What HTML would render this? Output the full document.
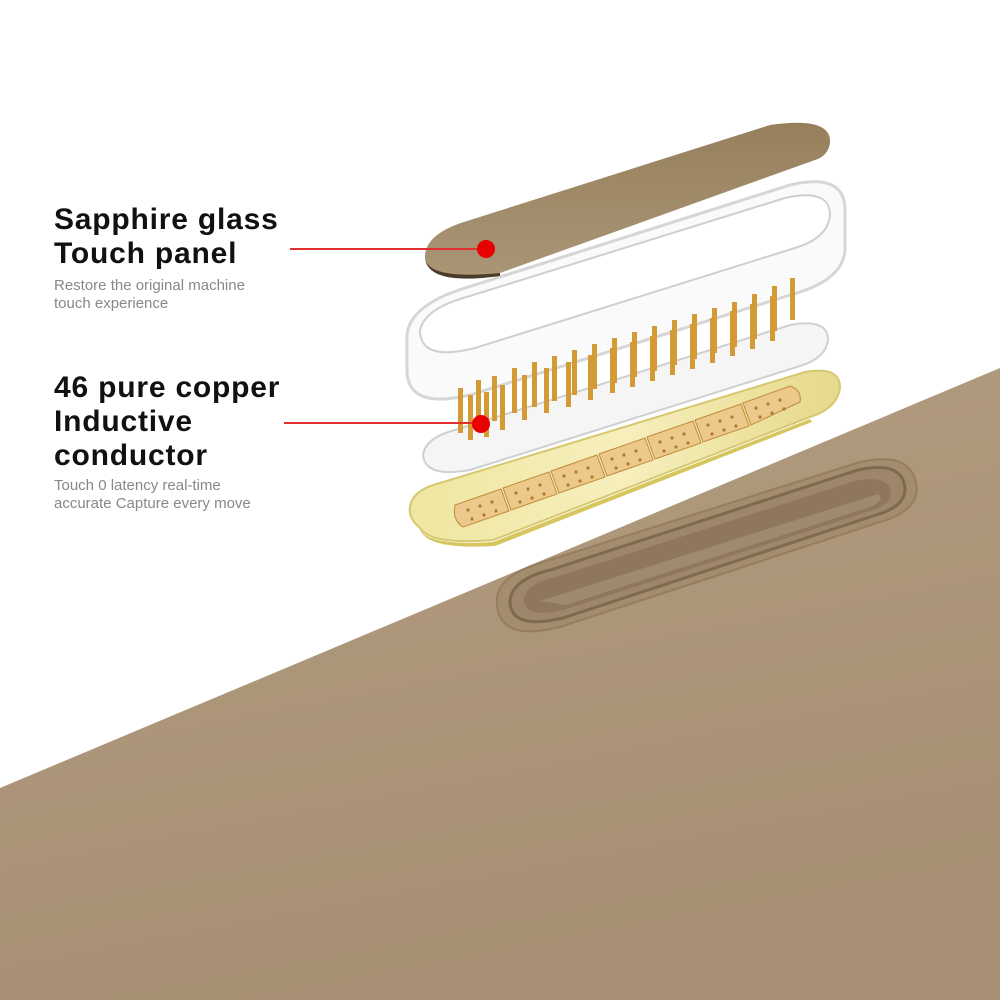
<!DOCTYPE html>
<html><head><meta charset="utf-8"><style>
html,body{margin:0;padding:0;background:#fff;}
.w{position:relative;width:1000px;height:1000px;overflow:hidden;background:#fff;font-family:"Liberation Sans",Arial,sans-serif;}
.t{position:absolute;left:54px;font-weight:bold;font-size:30px;color:#111;letter-spacing:0.8px;line-height:34px;}
.s{position:absolute;left:54px;font-size:15px;color:#888;line-height:18px;}
svg{position:absolute;left:0;top:0;}
</style></head><body><div class="w">
<svg width="1000" height="1000" viewBox="0 0 1000 1000">
<defs>
<linearGradient id="body" x1="0" y1="0" x2="0.3" y2="1">
<stop offset="0" stop-color="#b39d80"/><stop offset="1" stop-color="#a68f72"/></linearGradient>
<linearGradient id="gold" x1="0" y1="0" x2="1" y2="0">
<stop offset="0" stop-color="#efe6a0"/><stop offset="0.5" stop-color="#f6efbd"/><stop offset="1" stop-color="#e6d98a"/></linearGradient>
<linearGradient id="sap" x1="0" y1="0" x2="0" y2="1">
<stop offset="0" stop-color="#977f5c"/><stop offset="1" stop-color="#a99676"/></linearGradient>
</defs>
<path d="M0 788 L1000 368 L1000 1000 L0 1000 Z" fill="url(#body)"/>
<!-- slot -->
<path d="M497,605 Q493,578 540,563 L860,462 Q915,450 917,490 Q915,512 880,522 L560,627 Q500,642 497,605 Z" fill="#a48c6f" stroke="#957d60" stroke-width="2"/>
<path d="M510,603 Q510,580 550,570 L858,470 Q904,460 905,490 Q904,507 876,515 L563,618 Q512,630 510,603 Z" fill="#9d8669" stroke="#7f6a50" stroke-width="3"/>
<path d="M524,600 Q525,584 556,577 L855,481 Q890,474 891,494 Q890,505 870,511 L566,609 Q526,620 524,600 Z" fill="#8e775b"/>
<path d="M540,601 L878,494 Q886,500 870,507 L566,605 Z" fill="#a08a6d"/>
<!-- gold plate -->
<path d="M410,507 Q412,490 440,483 L805,372 Q840,366 840,387 Q838,408 810,417 L493,540 Q430,545 420,528 Q408,518 410,507 Z" fill="url(#gold)" stroke="#d6c870" stroke-width="2"/>
<path d="M420,530 Q430,546 493,542 L810,419 L812,422 L495,546 Q428,550 420,530 Z" fill="#d7c55d"/>
<!-- pads -->
<g fill="#ecc98a" stroke="#c08a3a" stroke-width="1">
<path d="M455,505 L501,489 L509,511 L463,527 Q452,520 455,505 Z"/>
<path d="M503,488 L549,472 L557,494 L511,510 Z"/>
<path d="M551,471 L597,455 L605,477 L559,493 Z"/>
<path d="M599,454 L645,438 L653,460 L607,476 Z"/>
<path d="M647,437 L693,421 L701,443 L655,459 Z"/>
<path d="M695,420 L741,404 L749,426 L703,442 Z"/>
<path d="M743,403 L790,386 Q802,390 800,402 L751,425 Z"/>
</g>
<g fill="#b07a30">
<circle cx="468" cy="510" r="1.6"/><circle cx="480" cy="506" r="1.6"/><circle cx="492" cy="502" r="1.6"/><circle cx="472" cy="519" r="1.6"/><circle cx="484" cy="515" r="1.6"/><circle cx="496" cy="511" r="1.6"/>
<circle cx="516" cy="493" r="1.6"/><circle cx="528" cy="489" r="1.6"/><circle cx="540" cy="485" r="1.6"/><circle cx="520" cy="502" r="1.6"/><circle cx="532" cy="498" r="1.6"/><circle cx="544" cy="494" r="1.6"/>
<circle cx="564" cy="476" r="1.6"/><circle cx="576" cy="472" r="1.6"/><circle cx="588" cy="468" r="1.6"/><circle cx="568" cy="485" r="1.6"/><circle cx="580" cy="481" r="1.6"/><circle cx="592" cy="477" r="1.6"/>
<circle cx="612" cy="459" r="1.6"/><circle cx="624" cy="455" r="1.6"/><circle cx="636" cy="451" r="1.6"/><circle cx="616" cy="468" r="1.6"/><circle cx="628" cy="464" r="1.6"/><circle cx="640" cy="460" r="1.6"/>
<circle cx="660" cy="442" r="1.6"/><circle cx="672" cy="438" r="1.6"/><circle cx="684" cy="434" r="1.6"/><circle cx="664" cy="451" r="1.6"/><circle cx="676" cy="447" r="1.6"/><circle cx="688" cy="443" r="1.6"/>
<circle cx="708" cy="425" r="1.6"/><circle cx="720" cy="421" r="1.6"/><circle cx="732" cy="417" r="1.6"/><circle cx="712" cy="434" r="1.6"/><circle cx="724" cy="430" r="1.6"/><circle cx="736" cy="426" r="1.6"/>
<circle cx="756" cy="408" r="1.6"/><circle cx="768" cy="404" r="1.6"/><circle cx="780" cy="400" r="1.6"/><circle cx="760" cy="417" r="1.6"/><circle cx="772" cy="413" r="1.6"/><circle cx="784" cy="409" r="1.6"/>
</g>
<!-- pin carrier -->
<path d="M423,455 Q425,438 455,430 L790,325 Q828,318 828,340 Q826,358 800,366 L470,470 Q425,478 423,455 Z" fill="rgba(238,238,240,0.6)" stroke="#d0d0d0" stroke-width="2"/>
<!-- clear frame -->
<path d="M407,335 Q410,305 465,288 L790,185 Q845,172 845,210 L845,250 Q843,278 800,292 L470,395 Q407,410 407,370 Z" fill="rgba(246,246,246,0.5)" stroke="#d6d6d6" stroke-width="3"/>
<path d="M420,330 Q425,308 470,296 L785,198 Q830,188 830,215 Q828,238 795,248 L475,348 Q420,362 420,330 Z" fill="#fff" stroke="#cfcfcf" stroke-width="2"/>
<!-- pins -->
<g fill="#d49a35">
<rect x="458" y="388" width="5" height="45"/><rect x="476" y="380" width="5" height="45"/><rect x="492" y="376" width="5" height="45"/><rect x="512" y="368" width="5" height="45"/>
<rect x="532" y="362" width="5" height="45"/><rect x="552" y="356" width="5" height="45"/><rect x="572" y="350" width="5" height="45"/><rect x="592" y="344" width="5" height="45"/>
<rect x="612" y="338" width="5" height="45"/><rect x="632" y="332" width="5" height="45"/><rect x="652" y="326" width="5" height="45"/><rect x="672" y="320" width="5" height="45"/>
<rect x="692" y="314" width="5" height="45"/><rect x="712" y="308" width="5" height="45"/><rect x="732" y="302" width="5" height="45"/><rect x="752" y="294" width="5" height="45"/>
<rect x="772" y="286" width="5" height="45"/><rect x="790" y="278" width="5" height="42"/>
<rect x="468" y="395" width="5" height="45"/><rect x="484" y="392" width="5" height="45"/><rect x="500" y="385" width="5" height="45"/><rect x="522" y="375" width="5" height="45"/>
<rect x="544" y="368" width="5" height="45"/><rect x="566" y="362" width="5" height="45"/><rect x="588" y="355" width="5" height="45"/><rect x="610" y="348" width="5" height="45"/>
<rect x="630" y="342" width="5" height="45"/><rect x="650" y="336" width="5" height="45"/><rect x="670" y="330" width="5" height="45"/><rect x="690" y="324" width="5" height="45"/>
<rect x="710" y="318" width="5" height="45"/><rect x="730" y="311" width="5" height="45"/><rect x="750" y="304" width="5" height="45"/><rect x="770" y="296" width="5" height="45"/>
</g>
<!-- sapphire -->
<path d="M425,258 Q424,234 467,221 L770,125 Q832,116 830,143 Q828,156 815,160 L500,273 Q428,284 425,258 Z" fill="url(#sap)"/>
<path d="M425,258 Q428,280 500,273 L500,276 Q428,286 425,258 Z" fill="#4a3c28"/>
<line x1="290" y1="249" x2="484" y2="249" stroke="#e03030" stroke-width="2"/>
<circle cx="486" cy="249" r="9" fill="#e80000"/>
<line x1="284" y1="423" x2="478" y2="423" stroke="#e03030" stroke-width="2"/>
<circle cx="481" cy="424" r="9" fill="#e80000"/>
</svg>
<div class="t" style="top:203px">Sapphire glass<br>Touch panel</div>
<div class="s" style="top:277px">Restore the original machine<br>touch experience</div>
<div class="t" style="top:371px">46 pure copper<br>Inductive<br>conductor</div>
<div class="s" style="top:477px">Touch 0 latency real-time<br>accurate Capture every move</div>
</div></body></html>
